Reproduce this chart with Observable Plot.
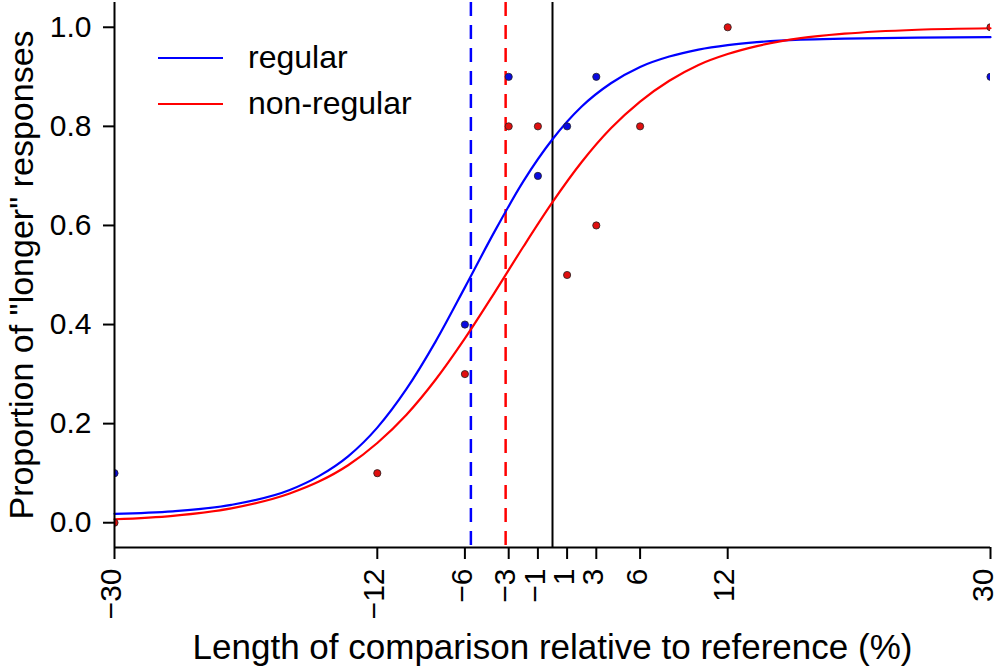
<!DOCTYPE html>
<html><head><meta charset="utf-8">
<script src="https://cdn.jsdelivr.net/npm/d3@7"></script>
<script src="https://cdn.jsdelivr.net/npm/@observablehq/plot@0.6"></script>
<style>
body{margin:0;background:#fff}
#chart{width:1000px;height:667px}
</style>
</head><body><div id="chart"></div>
<script>
const xTicks = [-30, -12, -6, -3, -1, 1, 3, 6, 12, 30];
const yTicks = [0, 0.2, 0.4, 0.6, 0.8, 1.0];
const xDomain = [-30, 30];
const yDomain = [-0.05, 1.05];
const seriesNames = ["regular", "non-regular"];
const seriesColors = ["#0000ff", "#ff0000"];
const pointColors = ["#0a0ae0", "#e00f0f"];

// observed proportions
const regularX = [-30, -6, -3, -1, 1, 3, 30];
const regularY = [0.1, 0.4, 0.9, 0.7, 0.8, 0.9, 0.9];
const nonRegularX = [-30, -12, -6, -3, -1, 1, 3, 6, 12, 30];
const nonRegularY = [0.0, 0.1, 0.3, 0.8, 0.8, 0.5, 0.6, 0.8, 1.0, 1.0];

// fitted curves
const curveX = [-30, -26, -22, -18, -16, -14, -12, -10, -8, -6, -4, -2, 0, 2, 4, 6, 8, 10, 12, 14, 17, 20, 25, 30];
const regularCurve = [0.018, 0.023, 0.036, 0.066, 0.094, 0.134, 0.192, 0.270, 0.366, 0.475, 0.586, 0.689, 0.774, 0.840, 0.887, 0.920, 0.941, 0.955, 0.964, 0.970, 0.975, 0.977, 0.979, 0.980];
const nonRegularCurve = [0.007, 0.014, 0.029, 0.059, 0.083, 0.116, 0.161, 0.218, 0.289, 0.372, 0.463, 0.557, 0.647, 0.728, 0.796, 0.850, 0.892, 0.924, 0.946, 0.962, 0.978, 0.987, 0.995, 0.998];

// points of subjective equality and reference
const pse = [-5.59, -3.21];
const reference = [0];

const xLabel = "Length of comparison relative to reference (%)";
const yLabel = "Proportion of \"longer\" responses";

const regularPts = regularX.map((x, i) => ({x, y: regularY[i]}));
const nonRegularPts = nonRegularX.map((x, i) => ({x, y: nonRegularY[i]}));
const regularLine = curveX.map((x, i) => ({x, y: regularCurve[i]}));
const nonRegularLine = curveX.map((x, i) => ({x, y: nonRegularCurve[i]}));

const font = "Liberation Sans, Arial, Helvetica, sans-serif";

const plot = Plot.plot({
  width: 1000,
  height: 667,
  marginLeft: 114,
  marginRight: 10,
  marginTop: 2,
  marginBottom: 120,
  style: {fontFamily: font, background: "#fff", color: "#000"},
  x: {domain: xDomain},
  y: {domain: yDomain},
  marks: [
    Plot.ruleX([pse[0]], {x: d => d, stroke: seriesColors[0], strokeWidth: 2.5, strokeDasharray: "14,9"}),
    Plot.ruleX([pse[1]], {x: d => d, stroke: seriesColors[1], strokeWidth: 2.5, strokeDasharray: "14,9"}),
    Plot.ruleX(reference, {x: d => d, stroke: "#000", strokeWidth: 2}),
    Plot.line(regularLine, {x: "x", y: "y", stroke: seriesColors[0], strokeWidth: 2.2, curve: "monotone-x"}),
    Plot.line(nonRegularLine, {x: "x", y: "y", stroke: seriesColors[1], strokeWidth: 2.2, curve: "monotone-x"}),
    Plot.dot(regularPts, {x: "x", y: "y", r: 3.6, fill: pointColors[0], stroke: "#222", strokeWidth: 0.8, clip: true}),
    Plot.dot(nonRegularPts, {x: "x", y: "y", r: 3.6, fill: pointColors[1], stroke: "#222", strokeWidth: 0.8, clip: true}),
    Plot.ruleX([xDomain[0]], {x: d => d, stroke: "#000", strokeWidth: 2}),
    Plot.ruleY([yDomain[0]], {y: d => d, stroke: "#000", strokeWidth: 2}),
    Plot.axisY({ticks: yTicks, tickFormat: d3.format(".1f"), fontSize: 30, tickSize: 11, tickPadding: 12, strokeWidth: 2, label: null}),
    Plot.axisX({ticks: xTicks, tickFormat: d3.format("d"), fontSize: 30, tickSize: 12, tickPadding: 9, tickRotate: -90, strokeWidth: 2, label: null}),
    Plot.text([xLabel], {text: d => d, frameAnchor: "bottom", dy: 111, lineAnchor: "bottom", textAnchor: "middle", fontSize: 35, fill: "#000"}),
    Plot.text([yLabel], {text: d => d, frameAnchor: "left", rotate: -90, dx: -82, lineAnchor: "bottom", textAnchor: "middle", fontSize: 34, fill: "#000"})
  ]
});

const svg = d3.select(plot);

// nudge rotated x tick labels slightly left of their ticks, as in the reference
const xLabels = svg.selectAll('g[aria-label="x-axis tick label"] text');
const nLab = xLabels.size();
xLabels.each(function(d, i) {
  const t = d3.select(this);
  const shift = i === nLab - 1 ? -7 : -3;
  t.attr("transform", `translate(${shift},0) ` + (t.attr("transform") || ""));
});

const legend = svg.append("g").attr("font-family", font).attr("font-size", 32).attr("text-anchor", "start");
seriesNames.forEach((name, i) => {
  legend.append("line")
    .attr("x1", 158).attr("x2", 223)
    .attr("y1", 58 + 46 * i).attr("y2", 58 + 46 * i)
    .attr("stroke", seriesColors[i]).attr("stroke-width", 2);
  legend.append("text")
    .attr("x", 248).attr("y", 68 + 46 * i)
    .attr("fill", "#000")
    .attr("text-anchor", "start")
    .text(name);
});

document.getElementById("chart").appendChild(plot);
</script>
</body></html>
